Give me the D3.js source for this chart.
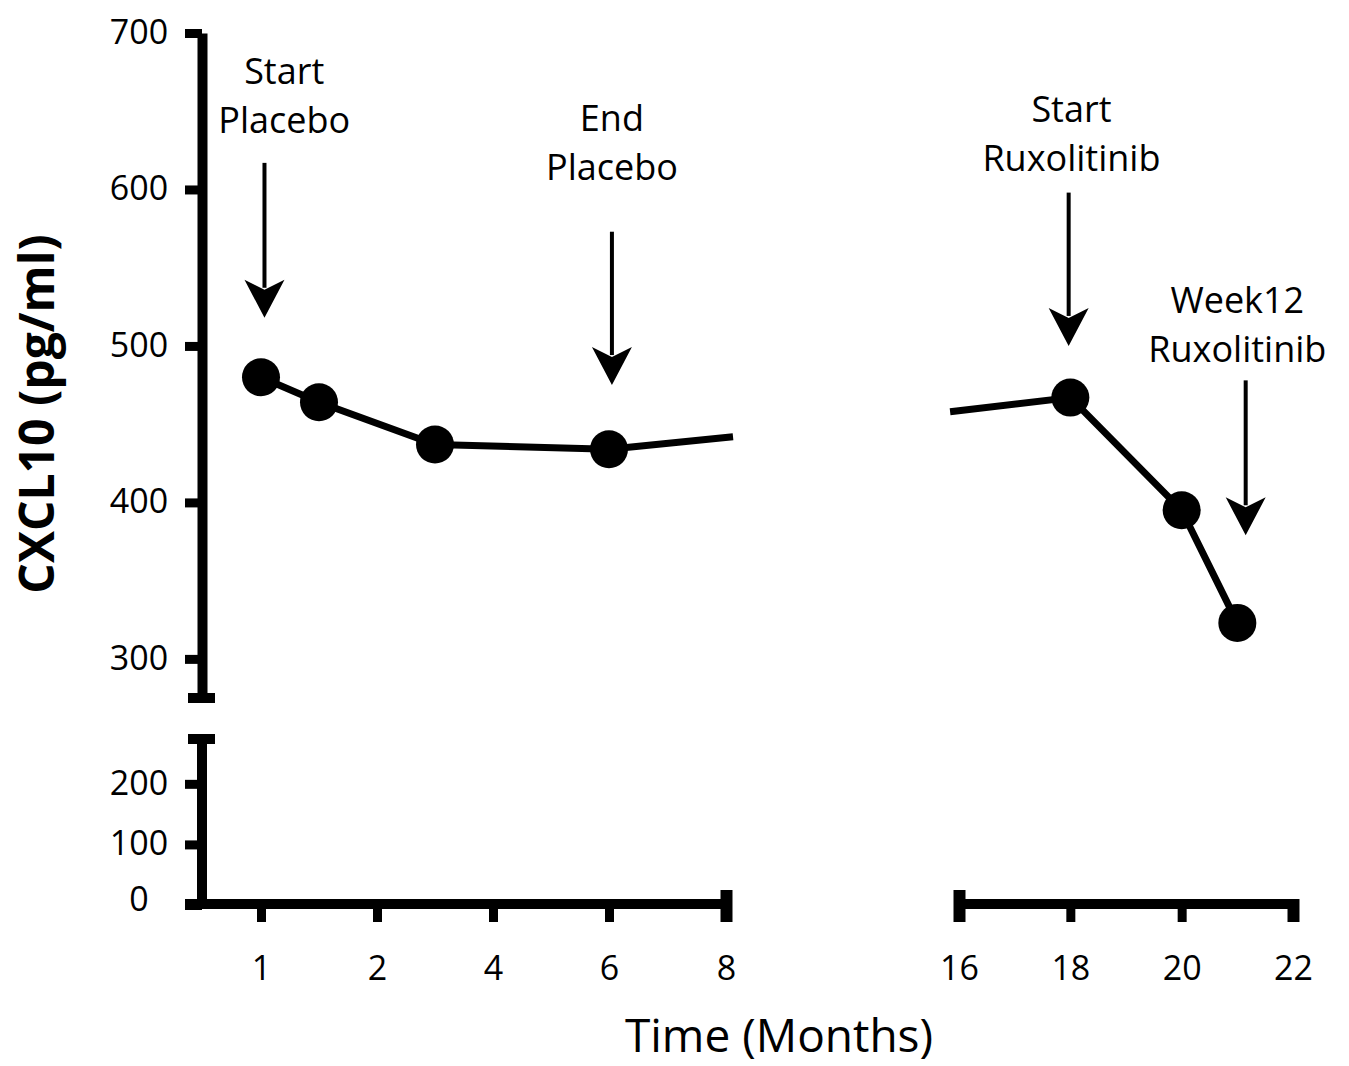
<!DOCTYPE html>
<html lang="en">
<head>
<meta charset="utf-8">
<title>CXCL10 over time</title>
<script src="https://d3js.org/d3.v7.min.js"></script>
<style>
  body { margin: 0; background: #fff; }
  svg text { font-family: "Open Sans", "DejaVu Sans", sans-serif; fill: #000; }
</style>
</head>
<body>
<script>
// ---- data ----
// placebo phase (months on the left, non linear axis)
var leftMonths = [1, 1.5, 3, 6];
var leftValues = [480, 464, 437, 434];
// ends of the connecting line where it is cut by the axis gap
var leftStubMonth = 8.12, leftStubValue = 442;
var rightStubMonth = 15.84, rightStubValue = 458;
// ruxolitinib phase
var rightMonths = [18, 20, 21];
var rightValues = [467, 395, 323];

var leftTicks = [1, 2, 4, 6, 8];
var rightTicks = [16, 18, 20, 22];
var yUpperTicks = [300, 400, 500, 600, 700];
var yLowerTicks = [0, 100, 200];

// annotations: text lines, text month, text baseline value, arrow month, arrow from / to values
var annText = [["Start", "Placebo"], ["End", "Placebo"], ["Start", "Ruxolitinib"], ["Week12", "Ruxolitinib"]];
var annTextMonth = [1.2, 6.05, 18.02, 21.0];
var annTextValue = [636, 606, 612, 490];
var annArrowMonth = [1.03, 6.05, 17.97, 21.15];
var annArrowFrom = [617, 573, 598, 478];
var annArrowTo = [518, 475, 500, 379];

// ---- layout ----
var W = 1349, H = 1066;
var svg = d3.select("body").append("svg").attr("width", W).attr("height", H);

var axisX = 202;     // y axis centre line
var axisY = 904;     // x axis centre line
var thick = 10;

// piecewise scale on the left (1,2,4,6,8 evenly spaced)
var xL = d3.scaleLinear().domain(leftTicks).range([261, 377, 493, 609, 726]);
var xR = d3.scaleLinear().domain([16, 22]).range([959, 1293]);
var yUp = d3.scaleLinear().domain([275, 700]).range([698, 33]);
var yLo = d3.scaleLinear().domain([0, 274]).range([905, 739]);

function styleAxis(g) {
  g.select(".domain").attr("stroke", "#000").attr("stroke-width", thick);
  g.selectAll(".tick line").attr("stroke", "#000").attr("stroke-width", 9);
  g.selectAll(".tick text").attr("font-size", 34);
}

// ---- y axis, upper part ----
var gyU = svg.append("g").attr("transform", "translate(" + axisX + ",0)")
  .call(d3.axisLeft(yUp).tickValues(yUpperTicks).tickSize(17).tickSizeOuter(0).tickFormat(d3.format("d")));
styleAxis(gyU);
gyU.selectAll(".tick text").attr("text-anchor", "middle").attr("x", -63).attr("dy", "0.3em");

// ---- y axis, lower part ----
var gyL = svg.append("g").attr("transform", "translate(" + axisX + ",0)")
  .call(d3.axisLeft(yLo).tickValues(yLowerTicks).tickSize(17).tickSizeOuter(0).tickFormat(d3.format("d")));
styleAxis(gyL);
gyL.select(".domain").attr("d", "M0," + (axisY + thick / 2) + "V" + yLo(274));
gyL.selectAll(".tick text").attr("text-anchor", "middle").attr("x", -63).attr("dy", "0.3em");
gyL.selectAll(".tick").filter(function(d) { return d === 0; }).select("text").attr("dy", "0.15em");

// break caps on the y axis
[yUp(275), yLo(274)].forEach(function(y) {
  svg.append("line").attr("x1", axisX - 14).attr("x2", axisX + 13)
    .attr("y1", y).attr("y2", y).attr("stroke", "#000").attr("stroke-width", thick);
});

// ---- x axis, left part ----
var gxL = svg.append("g").attr("transform", "translate(0," + axisY + ")")
  .call(d3.axisBottom(xL).tickValues(leftTicks).tickSize(18).tickSizeOuter(0).tickFormat(d3.format("d")));
styleAxis(gxL);
gxL.select(".domain").attr("d", "M" + (axisX - 17) + ",0H" + (xL(8) + 5));
gxL.selectAll(".tick text").attr("y", 76).attr("dy", 0);
gxL.selectAll(".tick").filter(function(d) { return d === 8; }).select("line")
  .attr("y1", -14).attr("stroke-width", 12);

// ---- x axis, right part ----
var gxR = svg.append("g").attr("transform", "translate(0," + axisY + ")")
  .call(d3.axisBottom(xR).tickValues(rightTicks).tickSize(18).tickSizeOuter(0).tickFormat(d3.format("d")));
styleAxis(gxR);
gxR.select(".domain").attr("d", "M" + (xR(16) - 5) + ",0H" + (xR(22) + 5));
gxR.selectAll(".tick text").attr("y", 76).attr("dy", 0);
gxR.selectAll(".tick").filter(function(d) { return d === 16; }).select("line")
  .attr("y1", -14).attr("stroke-width", 12);
gxR.selectAll(".tick").filter(function(d) { return d === 22; }).select("line")
  .attr("y1", -5).attr("stroke-width", 12);

// ---- axis titles ----
svg.append("text")
  .attr("transform", "translate(54," + 414 + ") rotate(-90)")
  .attr("text-anchor", "middle")
  .attr("font-size", 48).attr("font-weight", "bold")
  .text("CXCL10 (pg/ml)");

svg.append("text")
  .attr("x", 779).attr("y", 1052)
  .attr("text-anchor", "middle")
  .attr("font-size", 46)
  .text("Time (Months)");

// ---- lines ----
var leftPts = leftMonths.map(function(m, i) { return [xL(m), yUp(leftValues[i])]; });
var rightPts = rightMonths.map(function(m, i) { return [xR(m), yUp(rightValues[i])]; });
var line = d3.line();

svg.append("path")
  .attr("d", line(leftPts.concat([[xL(leftStubMonth), yUp(leftStubValue)]])))
  .attr("fill", "none").attr("stroke", "#000").attr("stroke-width", 7);
svg.append("path")
  .attr("d", line([[xR(rightStubMonth), yUp(rightStubValue)]].concat(rightPts)))
  .attr("fill", "none").attr("stroke", "#000").attr("stroke-width", 7);

svg.selectAll("circle.pt")
  .data(leftPts.concat(rightPts))
  .enter().append("circle")
  .attr("class", "pt")
  .attr("cx", function(d) { return d[0]; })
  .attr("cy", function(d) { return d[1]; })
  .attr("r", 19)
  .attr("fill", "#000");

// ---- annotations ----
function xAny(m) { return m <= 12 ? xL(m) : xR(m); }

annText.forEach(function(lines, i) {
  var tx = xAny(annTextMonth[i]);
  var ty = yUp(annTextValue[i]);
  var t = svg.append("text").attr("text-anchor", "middle").attr("font-size", 36);
  lines.forEach(function(s, k) {
    t.append("tspan").attr("x", tx)
      .attr("y", ty - (lines.length - 1 - k) * 49)
      .text(s);
  });

  var ax = xAny(annArrowMonth[i]);
  var y0 = yUp(annArrowFrom[i]);
  var y1 = yUp(annArrowTo[i]);
  var headLen = 38, headW = 20;
  svg.append("line")
    .attr("x1", ax).attr("x2", ax)
    .attr("y1", y0).attr("y2", y1 - headLen + 8)
    .attr("stroke", "#000").attr("stroke-width", 4);
  svg.append("path")
    .attr("d", "M" + (ax - headW) + "," + (y1 - headLen) +
      "L" + ax + "," + y1 +
      "L" + (ax + headW) + "," + (y1 - headLen) +
      "L" + ax + "," + (y1 - headLen + 10) + "Z")
    .attr("fill", "#000");
});
</script>
</body>
</html>
